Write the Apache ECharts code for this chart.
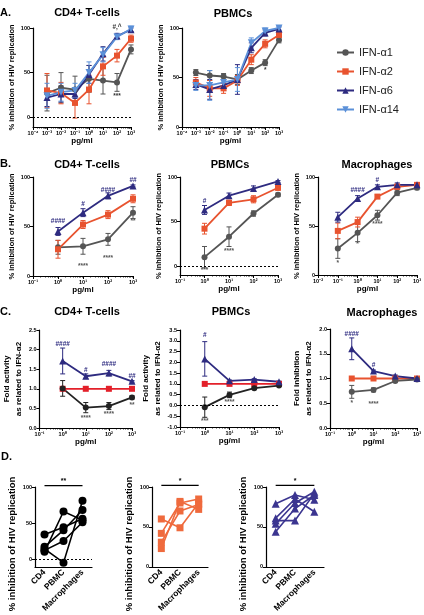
<!DOCTYPE html>
<html lang="en">
<head>
<meta charset="utf-8">
<title>IFN-alpha subtypes - HIV inhibition</title>
<script src="https://cdn.jsdelivr.net/npm/echarts@6/dist/echarts.min.js"></script>
<style>html,body{margin:0;padding:0;background:#fff}#main{width:424px;height:615px}</style>
</head>
<body>
<div id="main"></div>
<script>
var FONT = '"Liberation Sans", Arial, sans-serif';

// ---- data ----
var subtypes = ['IFN-α1', 'IFN-α2', 'IFN-α6', 'IFN-α14'];
var powLabels = {'-4': '10⁻⁴', '-3': '10⁻³', '-2': '10⁻²', '-1': '10⁻¹', '0': '10⁰', '1': '10¹', '2': '10²', '3': '10³'};

// A. CD4+ T-cells
var aDose = [0.001, 0.01, 0.1, 1, 10, 100, 1000];
var aCd4A1 = [27, 33, 31, 43, 41, 39, 76];
var aCd4A2 = [30, 27, 16, 31, 57, 69, 88];
var aCd4A6 = [22, 26, 26, 48, 71, 91, 98];
var aCd4A14 = [24, 28, 30, 50, 70, 90, 99];
var aCd4E1 = [20, 17, 15, 15, 15, 10, 5];
var aCd4E2 = [19, 12, 17, 16, 10, 7, 4];
var aCd4E6 = [10, 9, 5, 10, 8, 3, 2];
var aCd4E14 = [14, 10, 8, 12, 8, 3, 3];
// A. PBMCs
var aPbA1 = [55, 52, 51, 48, 57, 65, 88];
var aPbA2 = [45, 39, 39, 47, 68, 84, 93];
var aPbA6 = [43, 38, 42, 48, 80, 95, 99];
var aPbA14 = [42, 42, 45, 48, 85, 97, 100];
var aPbE1 = [3, 5, 3, 5, 3, 3, 3];
var aPbE2 = [5, 8, 5, 5, 5, 4, 3];
var aPbE6 = [5, 10, 5, 15, 5, 3, 2];
var aPbE14 = [5, 15, 8, 12, 5, 3, 2];

// B.
var bDose = [1, 10, 100, 1000];
var bCd4A1 = [29, 30, 37, 64];
var bCd4A2 = [27, 52, 62, 78];
var bCd4A6 = [45, 64, 81, 91];
var bCd4E1 = [7, 8, 6, 6];
var bCd4E2 = [9, 4, 4, 4];
var bCd4E6 = [4, 4, 3, 1];
var bPbA1 = [10, 33, 59, 80];
var bPbA2 = [42, 71, 75, 88];
var bPbA6 = [63, 79, 87, 95];
var bPbE1 = [12, 11, 3, 2];
var bPbE2 = [6, 3, 4, 3];
var bPbE6 = [5, 3, 3, 1];
var bMacDose = [0.1, 1, 10, 100, 1000];
var bMacA1 = [27, 43, 61, 84, 89];
var bMacA2 = [45, 54, 80, 90, 92];
var bMacA6 = [59, 78, 90, 92, 92];
var bMacE1 = [10, 9, 5, 3, 2];
var bMacE2 = [8, 5, 2, 3, 2];
var bMacE6 = [5, 3, 2, 2, 2];

// C. fold activity relative to IFN-a2
var cDose = [1, 10, 100, 1000];
var cRef = [1, 1, 1, 1];
var cCd4A1 = [1.01, 0.52, 0.56, 0.78];
var cCd4A6 = [1.71, 1.32, 1.40, 1.19];
var cCd4E1 = [0.2, 0.13, 0.09, 0.04];
var cCd4E6 = [0.33, 0.06, 0.07, 0.02];
var cPbA1 = [-0.08, 0.49, 0.80, 0.92];
var cPbA6 = [2.16, 1.14, 1.20, 1.10];
var cPbE1 = [0.47, 0.13, 0.04, 0.03];
var cPbE6 = [0.8, 0.04, 0.04, 0.03];
var cMacA1 = [0.73, 0.77, 0.95, 0.98];
var cMacA6 = [1.60, 1.15, 1.05, 1.00];
var cMacE1 = [0.13, 0.04, 0.02, 0.01];
var cMacE6 = [0.22, 0.02, 0.02, 0.01];

// significance marks: [dose, y, text]
var aCd4Hash = [[100, 101, '#,^']];
var aCd4Star = [[100, 23, '***']];
var aPbStar = [[100, 57, '*']];
var bCd4Hash = [[1, 55, '####'], [10, 73, '#'], [100, 87, '####'], [1000, 97, '##']];
var bCd4Star = [[10, 10, '****'], [100, 18, '****'], [1000, 55, '**']];
var bPbHash = [[1, 73, '#']];
var bPbStar = [[1, -5, '***'], [10, 17, '****']];
var bMacHash = [[1, 87, '####'], [10, 97, '#']];
var bMacStar = [[0.1, 12, '*'], [1, 31, '*'], [10, 52, '****']];
var cCd4Hash = [[1, 2.15, '####'], [10, 1.48, '#'], [100, 1.63, '####'], [1000, 1.32, '##']];
var cCd4Star = [[10, 0.26, '****'], [100, 0.36, '****'], [1000, 0.58, '**']];
var cPbHash = [[1, 3.27, '#']];
var cPbStar = [[1, -0.71, '***'], [10, 0.14, '****']];
var cMacHash = [[1, 1.9, '####'], [10, 1.27, '#']];
var cMacStar = [[1, 0.51, '*'], [10, 0.48, '****']];

// D. paired donors (CD4, PBMC, Macrophages)
var dCats = ['CD4', 'PBMC', 'Macrophages'];
var dA1 = [[34, 44, 56], [17, 40, 68], [14, -5, 81], [10, 66, 54], [12, 25, 51]];
var dA2 = [[60, 49, 80], [42, 80, 85], [31, 70, 78], [23, 82, 72]];
var dA6 = [[79, 90, 84], [61, 85, 69], [58, 58, 92], [54, 80, 94], [44, 73, 90]];
var dSig = ['**', '*', '*'];

// ---- styles ----
var GRAY = '#555555', RED = '#e8532f', NAVY = '#2e2b80', LBLUE = '#5b90d8';
var symbols = ['circle', 'rect', 'triangle', 'triangle'];
var rots = [0, 0, 0, 180];

var grids = [
  {left: 33, top: 28, width: 98, height: 99},
  {left: 182, top: 28, width: 97, height: 99},
  {left: 33, top: 177, width: 100, height: 99},
  {left: 180, top: 177, width: 98, height: 98},
  {left: 318, top: 177, width: 106, height: 98},
  {left: 35, top: 330, width: 97, height: 98},
  {left: 180, top: 330, width: 99, height: 97},
  {left: 330, top: 329, width: 96, height: 99},
  {left: 35, top: 487, width: 57, height: 88},
  {left: 152, top: 487, width: 56, height: 87},
  {left: 266, top: 487, width: 58, height: 87}
];

var axisLine = {show: true, onZero: false, lineStyle: {color: '#000', width: 1.2}};

function logX(gi, lo, hi, gap) {
  var ticks = [];
  for (var e = lo; e <= hi; e++) ticks.push(Math.pow(10, e));
  return {
    type: 'log', logBase: 10, gridIndex: gi, min: ticks[0], max: ticks[ticks.length - 1],
    axisLine: axisLine, splitLine: {show: false},
    axisTick: {customValues: ticks, length: 3, lineStyle: {color: '#000', width: 1}},
    minorTick: {show: true, splitNumber: 9, length: 1.5, lineStyle: {color: '#000', width: 0.8}},
    axisLabel: {customValues: ticks, margin: 3, fontSize: 5.5, fontWeight: 'bold', color: '#000', fontFamily: FONT,
      formatter: function (v) { return powLabels[Math.round(Math.log10(v))]; }},
    name: 'pg/ml', nameLocation: 'middle', nameGap: gap,
    nameTextStyle: {fontSize: 8, fontWeight: 'bold', color: '#000', fontFamily: FONT}
  };
}

function valY(gi, min, max, name, gap, opt) {
  opt = opt || {};
  var ax = {
    type: 'value', gridIndex: gi, min: min, max: max,
    axisLine: axisLine, splitLine: {show: false},
    axisTick: {show: true, length: 3, lineStyle: {color: '#000', width: 1}},
    axisLabel: {margin: 3, fontSize: 5.5, fontWeight: 'bold', color: '#000', fontFamily: FONT},
    name: name, nameLocation: 'middle', nameGap: gap,
    nameTextStyle: {fontSize: opt.nameSize || 7.5, fontWeight: 'bold', color: '#000', fontFamily: FONT,
      lineHeight: opt.lh || 10, padding: opt.pad || 0}
  };
  if (opt.ticks) {
    ax.axisTick.customValues = opt.ticks;
    ax.axisLabel.customValues = opt.ticks;
  } else {
    ax.interval = opt.interval;
    ax.axisLabel.formatter = function (v) { return v.toFixed(1); };
  }
  return ax;
}

function catX(gi) {
  return {
    type: 'category', gridIndex: gi, data: dCats, boundaryGap: true,
    axisLine: axisLine, axisTick: {alignWithLabel: true, length: 3, lineStyle: {color: '#000'}},
    axisLabel: {rotate: 45, interval: 0, margin: 4, fontSize: 8.5, fontWeight: 'bold', color: '#000', fontFamily: FONT}
  };
}

function lineSer(gi, k, dose, mean, color, extra) {
  var s = {
    type: 'line', name: subtypes[k], xAxisIndex: gi, yAxisIndex: gi,
    data: dose.map(function (d, i) { return [d, mean[i]]; }),
    symbol: symbols[k], symbolSize: k >= 2 ? 7 : 6, symbolRotate: rots[k],
    lineStyle: {width: 1.8, color: color}, itemStyle: {color: color}, z: 3
  };
  if (extra) s.markLine = extra;
  return s;
}

function zeroLine() {
  return {silent: true, symbol: 'none', label: {show: false},
    lineStyle: {type: [2, 2], color: '#000', width: 1}, data: [{yAxis: 0}]};
}

function errSer(gi, dose, mean, err, color) {
  return {
    type: 'custom', name: 'err', xAxisIndex: gi, yAxisIndex: gi, z: 2,
    data: dose.map(function (d, i) { return [d, mean[i], err[i]]; }),
    renderItem: function (params, api) {
      var x = api.value(0), y = api.value(1), e = api.value(2);
      var hi = api.coord([x, y + e]), lo = api.coord([x, y - e]);
      var w = 2.5, st = {stroke: color, lineWidth: 1};
      return {type: 'group', children: [
        {type: 'line', shape: {x1: hi[0], y1: hi[1], x2: lo[0], y2: lo[1]}, style: st},
        {type: 'line', shape: {x1: hi[0] - w, y1: hi[1], x2: hi[0] + w, y2: hi[1]}, style: st},
        {type: 'line', shape: {x1: lo[0] - w, y1: lo[1], x2: lo[0] + w, y2: lo[1]}, style: st}
      ]};
    }
  };
}

function noteSer(gi, notes, color) {
  return {
    type: 'custom', name: 'note', xAxisIndex: gi, yAxisIndex: gi, z: 4,
    data: notes.map(function (n) { return [n[0], n[1]]; }),
    renderItem: function (params, api) {
      var p = api.coord([api.value(0), api.value(1)]);
      return {type: 'text', x: p[0], y: p[1], style: {text: notes[params.dataIndex][2], fill: color,
        font: 'bold 6.5px ' + FONT, align: 'center', verticalAlign: 'middle'}};
    }
  };
}

function donorSer(gi, donors, color, symbol, size, withZero) {
  return donors.map(function (row, j) {
    var s = {type: 'line', name: 'donor', xAxisIndex: gi, yAxisIndex: gi, data: row,
      symbol: symbol, symbolSize: size, lineStyle: {width: 1.6, color: color}, itemStyle: {color: color}, z: 3};
    if (withZero && j === 0) s.markLine = zeroLine();
    return s;
  });
}

function sigSer(gi, text) {
  return {
    type: 'custom', name: 'sig', xAxisIndex: gi, yAxisIndex: gi, z: 4,
    data: [[0, 102]],
    renderItem: function (params, api) {
      var a = api.coord([0, api.value(1)]), b = api.coord([2, api.value(1)]);
      return {type: 'group', children: [
        {type: 'line', shape: {x1: a[0], y1: a[1], x2: b[0], y2: b[1]}, style: {stroke: '#000', lineWidth: 1.2}},
        {type: 'text', x: (a[0] + b[0]) / 2, y: a[1] - 1, style: {text: text, fill: '#000',
          font: 'bold 7px ' + FONT, align: 'center', verticalAlign: 'bottom'}}
      ]};
    }
  };
}

// ---- axes ----
var pctName = '% inhibition of HIV replication';
var foldName = 'Fold activity\nas related to IFN-α2';
var dOpt = {ticks: [0, 50, 100], nameSize: 9.5, pad: [0, 34, 0, 0]};
var xAxes = [
  logX(0, -4, 3, 9), logX(1, -4, 3, 9),
  logX(2, -1, 3, 9), logX(3, -1, 3, 9), logX(4, -2, 3, 9),
  logX(5, -1, 3, 9), logX(6, -1, 3, 9), logX(7, -1, 3, 9),
  catX(8), catX(9), catX(10)
];
var yAxes = [
  valY(0, -11, 100, pctName, 16, {ticks: [0, 50, 100]}),
  valY(1, 0, 100, pctName, 16, {ticks: [0, 50, 100]}),
  valY(2, 0, 100, pctName, 16, {ticks: [0, 50, 100]}),
  valY(3, -10, 100, pctName, 16, {ticks: [0, 50, 100]}),
  valY(4, 0, 100, pctName, 16, {ticks: [0, 50, 100]}),
  valY(5, 0, 2.5, foldName, 13, {interval: 0.5, nameSize: 8, lh: 12}),
  valY(6, -1, 3.5, foldName, 13, {interval: 0.5, nameSize: 8, lh: 12}),
  valY(7, 0, 2, 'Fold inhibition\nas related to IFN-α2', 15, {interval: 0.5, nameSize: 8, lh: 12}),
  valY(8, -11, 100, pctName, 18, dOpt),
  valY(9, 0, 100, pctName, 18, dOpt),
  valY(10, 0, 100, pctName, 18, dOpt)
];

// ---- series ----
var series = [];
// A CD4
series.push(lineSer(0, 0, aDose, aCd4A1, GRAY, zeroLine()), errSer(0, aDose, aCd4A1, aCd4E1, GRAY));
series.push(lineSer(0, 1, aDose, aCd4A2, RED), errSer(0, aDose, aCd4A2, aCd4E2, RED));
series.push(lineSer(0, 2, aDose, aCd4A6, NAVY), errSer(0, aDose, aCd4A6, aCd4E6, NAVY));
series.push(lineSer(0, 3, aDose, aCd4A14, LBLUE), errSer(0, aDose, aCd4A14, aCd4E14, LBLUE));
series.push(noteSer(0, aCd4Hash, '#333'), noteSer(0, aCd4Star, '#333'));
// A PBMC
series.push(lineSer(1, 0, aDose, aPbA1, GRAY), errSer(1, aDose, aPbA1, aPbE1, GRAY));
series.push(lineSer(1, 1, aDose, aPbA2, RED), errSer(1, aDose, aPbA2, aPbE2, RED));
series.push(lineSer(1, 2, aDose, aPbA6, NAVY), errSer(1, aDose, aPbA6, aPbE6, NAVY));
series.push(lineSer(1, 3, aDose, aPbA14, LBLUE), errSer(1, aDose, aPbA14, aPbE14, LBLUE));
series.push(noteSer(1, aPbStar, '#333'));
// B CD4
series.push(lineSer(2, 0, bDose, bCd4A1, GRAY), errSer(2, bDose, bCd4A1, bCd4E1, GRAY));
series.push(lineSer(2, 1, bDose, bCd4A2, RED), errSer(2, bDose, bCd4A2, bCd4E2, RED));
series.push(lineSer(2, 2, bDose, bCd4A6, NAVY), errSer(2, bDose, bCd4A6, bCd4E6, NAVY));
series.push(noteSer(2, bCd4Hash, NAVY), noteSer(2, bCd4Star, GRAY));
// B PBMC
series.push(lineSer(3, 0, bDose, bPbA1, GRAY, zeroLine()), errSer(3, bDose, bPbA1, bPbE1, GRAY));
series.push(lineSer(3, 1, bDose, bPbA2, RED), errSer(3, bDose, bPbA2, bPbE2, RED));
series.push(lineSer(3, 2, bDose, bPbA6, NAVY), errSer(3, bDose, bPbA6, bPbE6, NAVY));
series.push(noteSer(3, bPbHash, NAVY), noteSer(3, bPbStar, GRAY));
// B Macrophages
series.push(lineSer(4, 0, bMacDose, bMacA1, GRAY), errSer(4, bMacDose, bMacA1, bMacE1, GRAY));
series.push(lineSer(4, 1, bMacDose, bMacA2, RED), errSer(4, bMacDose, bMacA2, bMacE2, RED));
series.push(lineSer(4, 2, bMacDose, bMacA6, NAVY), errSer(4, bMacDose, bMacA6, bMacE6, NAVY));
series.push(noteSer(4, bMacHash, NAVY), noteSer(4, bMacStar, GRAY));
// C CD4
series.push(lineSer(5, 1, cDose, cRef, '#e3202a'));
series.push(lineSer(5, 0, cDose, cCd4A1, '#222'), errSer(5, cDose, cCd4A1, cCd4E1, '#222'));
series.push(lineSer(5, 2, cDose, cCd4A6, NAVY), errSer(5, cDose, cCd4A6, cCd4E6, NAVY));
series.push(noteSer(5, cCd4Hash, NAVY), noteSer(5, cCd4Star, GRAY));
// C PBMC
series.push(lineSer(6, 1, cDose, cRef, '#e3202a', zeroLine()));
series.push(lineSer(6, 0, cDose, cPbA1, '#222'), errSer(6, cDose, cPbA1, cPbE1, '#222'));
series.push(lineSer(6, 2, cDose, cPbA6, NAVY), errSer(6, cDose, cPbA6, cPbE6, NAVY));
series.push(noteSer(6, cPbHash, NAVY), noteSer(6, cPbStar, GRAY));
// C Macrophages
series.push(lineSer(7, 1, cDose, cRef, RED));
series.push(lineSer(7, 0, cDose, cMacA1, GRAY), errSer(7, cDose, cMacA1, cMacE1, GRAY));
series.push(lineSer(7, 2, cDose, cMacA6, NAVY), errSer(7, cDose, cMacA6, cMacE6, NAVY));
series.push(noteSer(7, cMacHash, NAVY), noteSer(7, cMacStar, GRAY));
// D
series = series.concat(donorSer(8, dA1, '#000', 'circle', 8, true));
series = series.concat(donorSer(9, dA2, '#ef6a3d', 'rect', 7, false));
series = series.concat(donorSer(10, dA6, '#3b3590', 'triangle', 8, false));
series.push(sigSer(8, dSig[0]), sigSer(9, dSig[1]), sigSer(10, dSig[2]));

// ---- titles ----
var titles = [
  ['A.', 0, 13, 'left'], ['CD4+ T-cells', 87, 13, 'center'], ['PBMCs', 233, 14, 'center'],
  ['B.', 0, 164, 'left'], ['CD4+ T-cells', 87, 165, 'center'], ['PBMCs', 230, 165, 'center'], ['Macrophages', 377, 165, 'center'],
  ['C.', 0, 312, 'left'], ['CD4+ T-cells', 87, 312, 'center'], ['PBMCs', 231, 312, 'center'], ['Macrophages', 382, 313, 'center'],
  ['D.', 1, 457, 'left']
];
var graphics = titles.map(function (t) {
  return {type: 'text', x: t[1], y: t[2], silent: true, style: {text: t[0], fill: '#000',
    font: 'bold 11px ' + FONT, align: t[3], verticalAlign: 'middle'}};
});

var chart = echarts.init(document.getElementById('main'));
chart.setOption({
  animation: false,
  backgroundColor: '#fff',
  textStyle: {fontFamily: FONT},
  grid: grids,
  xAxis: xAxes,
  yAxis: yAxes,
  legend: {
    data: subtypes, orient: 'vertical', left: 336, top: 47, padding: 0,
    itemGap: 8, itemWidth: 17, itemHeight: 8,
    textStyle: {fontSize: 11, color: '#222', fontFamily: FONT}
  },
  graphic: graphics,
  series: series
});
</script>
</body>
</html>
